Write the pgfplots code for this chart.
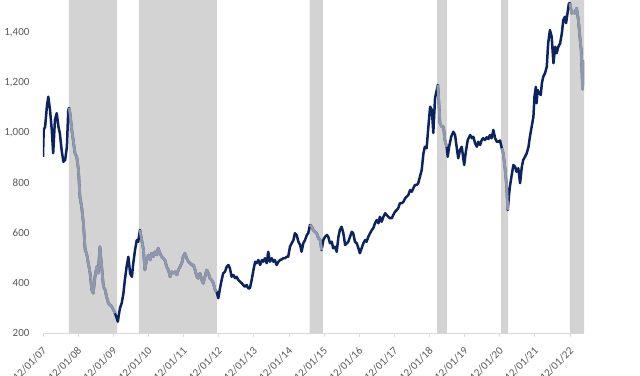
\documentclass[border=0pt]{standalone}
\usepackage{fontspec}
\setmainfont{Carlito}
\usepackage{pgfplots}
\pgfplotsset{compat=1.18}
\usepackage{pgfplotstable}
\definecolor{navy}{HTML}{0B235E}
\definecolor{lgrey}{HTML}{8E97AB}
\definecolor{shade}{HTML}{D3D3D3}
\definecolor{axgrey}{HTML}{D9D9D9}
\definecolor{txt}{HTML}{595959}

\pgfplotstableread{
u v
0.00 905
0.02 1012
0.06 1025
0.11 1105
0.15 1145
0.20 1092
0.25 1012
0.29 919
0.34 1052
0.39 1079
0.44 1025
0.48 999
0.53 932
0.58 885
0.63 892
0.68 945
0.72 1092
0.74 1100
0.77 1079
0.82 1012
0.86 972
0.91 919
0.96 905
1.01 852
1.05 745
1.10 705
1.15 639
1.20 532
1.24 519
1.29 479
1.34 439
1.39 372
1.43 359
1.48 425
1.53 465
1.57 439
1.62 545
1.67 465
1.72 385
1.77 372
1.81 345
1.86 319
1.96 305
2.05 279
2.13 245
2.15 265
2.19 299
2.24 319
2.29 359
2.33 412
2.38 465
2.43 505
2.48 439
2.53 425
2.57 479
2.62 532
2.67 572
2.71 565
2.76 612
2.81 572
2.86 532
2.90 452
2.95 492
3.00 512
3.05 492
3.09 519
3.14 505
3.19 525
3.24 512
3.28 539
3.33 519
3.38 505
3.42 499
3.47 492
3.52 465
3.57 452
3.62 425
3.66 445
3.71 439
3.76 445
3.81 432
3.85 452
3.90 465
3.95 479
3.99 505
4.04 519
4.09 499
4.14 485
4.19 479
4.23 472
4.28 472
4.33 452
4.38 425
4.42 419
4.47 439
4.52 412
4.56 399
4.61 425
4.66 452
4.71 439
4.75 419
4.80 412
4.85 399
4.90 372
4.94 365
4.99 339
5.04 380
5.09 415
5.13 439
5.18 445
5.23 465
5.28 472
5.32 459
5.37 425
5.42 432
5.47 419
5.51 425
5.56 412
5.61 405
5.66 399
5.70 392
5.75 385
5.80 392
5.84 379
5.89 379
5.94 412
5.99 452
6.04 485
6.08 479
6.13 492
6.18 472
6.23 492
6.27 485
6.32 499
6.37 479
6.41 525
6.46 485
6.51 499
6.56 485
6.60 492
6.65 472
6.70 485
6.75 492
6.80 495
6.84 499
6.89 499
6.94 505
6.98 505
7.03 545
7.08 559
7.13 572
7.17 599
7.22 592
7.27 565
7.32 552
7.36 525
7.41 559
7.46 572
7.51 592
7.55 599
7.60 632
7.65 625
7.69 612
7.74 605
7.79 599
7.84 579
7.89 572
7.93 532
7.98 572
8.03 585
8.08 592
8.12 585
8.17 559
8.22 565
8.26 539
8.31 545
8.36 525
8.41 585
8.45 612
8.50 625
8.55 599
8.60 552
8.65 559
8.69 565
8.74 585
8.79 605
8.83 599
8.88 565
8.93 559
8.98 539
9.02 519
9.07 539
9.12 559
9.17 572
9.21 565
9.26 585
9.31 599
9.36 612
9.40 619
9.45 639
9.50 652
9.55 639
9.59 665
9.64 645
9.69 665
9.74 679
9.78 672
9.83 665
9.88 659
9.93 659
9.97 672
10.02 685
10.07 692
10.11 699
10.16 719
10.21 719
10.26 725
10.31 739
10.35 745
10.40 752
10.45 772
10.50 765
10.54 779
10.59 792
10.64 792
10.68 799
10.73 825
10.78 852
10.83 919
10.87 945
10.92 939
10.97 1025
11.02 1105
11.07 1092
11.11 1000
11.16 1140
11.24 1192
11.27 1119
11.30 1039
11.35 1025
11.40 1025
11.44 972
11.49 945
11.52 905
11.56 945
11.62 985
11.68 1005
11.73 992
11.78 939
11.82 899
11.87 932
11.92 945
11.97 892
11.99 872
12.03 919
12.09 972
12.16 992
12.21 979
12.25 985
12.30 959
12.35 945
12.39 965
12.44 952
12.49 972
12.53 979
12.58 972
12.63 983
12.68 976
12.72 992
12.77 979
12.82 1012
12.87 979
12.92 965
12.96 965
13.01 970
13.06 939
13.10 919
13.15 860
13.20 785
13.23 692
13.27 759
13.29 785
13.34 830
13.39 872
13.44 865
13.48 845
13.53 859
13.58 799
13.63 865
13.67 892
13.72 905
13.77 919
13.82 945
13.86 985
13.91 1025
13.96 1065
13.99 1145
14.03 1185
14.05 1119
14.08 1172
14.12 1159
14.17 1152
14.20 1199
14.24 1225
14.29 1239
14.34 1265
14.38 1359
14.43 1412
14.48 1385
14.53 1279
14.58 1345
14.62 1319
14.67 1345
14.72 1359
14.77 1399
14.81 1452
14.86 1465
14.89 1439
14.93 1479
14.97 1519
15.00 1519
15.05 1479
15.10 1485
15.14 1479
15.19 1499
15.24 1452
15.29 1372
15.32 1332
15.36 1175
15.39 1290
}\data

\begin{document}
\begin{tikzpicture}
\useasboundingbox (0,0) rectangle (640pt,375pt);
\begin{axis}[
  at={(43pt,42pt)}, anchor=south west,
  scale only axis, width=541pt, height=333pt,
  xmin=0, xmax=15.40, ymin=200, ymax=1532,
  axis x line*=bottom, axis y line*=left,
  x axis line style={axgrey, line width=0.8pt, -},
  y axis line style={draw=none},
  ytick={200,400,...,1400},
  ytick style={draw=none},
  xtick={0,...,15},
  xticklabels={12/01/07,12/01/08,12/01/09,12/01/10,12/01/11,12/01/12,12/01/13,12/01/14,12/01/15,12/01/16,12/01/17,12/01/18,12/01/19,12/01/20,12/01/21,12/01/22},
  xtick style={axgrey, line width=0.8pt},
  major tick length=4pt, tick align=outside,
  tick label style={font=\fontsize{11}{13}\selectfont, text=txt},
  xticklabel style={xshift=4pt, yshift=-10pt, rotate=45, anchor=east},
  yticklabel style={xshift=-6pt},
  /pgf/number format/assume math mode=true,
  /pgf/number format/1000 sep={,},
]
\addplot[fill=shade, draw=none] coordinates {(0.74,200) (0.74,1532) (2.11,1532) (2.11,200)} \closedcycle;
\addplot[fill=shade, draw=none] coordinates {(2.73,200) (2.73,1532) (4.95,1532) (4.95,200)} \closedcycle;
\addplot[fill=shade, draw=none] coordinates {(7.59,200) (7.59,1532) (7.97,1532) (7.97,200)} \closedcycle;
\addplot[fill=shade, draw=none] coordinates {(11.22,200) (11.22,1532) (11.50,1532) (11.50,200)} \closedcycle;
\addplot[fill=shade, draw=none] coordinates {(13.04,200) (13.04,1532) (13.24,1532) (13.24,200)} \closedcycle;
\addplot[fill=shade, draw=none] coordinates {(15.00,200) (15.00,1532) (15.40,1532) (15.40,200)} \closedcycle;
\addplot[navy, line width=2.5pt, line join=round] table[x=u, y=v]{\data};
\addplot[lgrey, line width=2.8pt, line join=round, restrict x to domain=0.74:2.11] table[x=u, y=v]{\data};
\addplot[lgrey, line width=2.8pt, line join=round, restrict x to domain=2.73:4.95] table[x=u, y=v]{\data};
\addplot[lgrey, line width=2.8pt, line join=round, restrict x to domain=7.59:7.97] table[x=u, y=v]{\data};
\addplot[lgrey, line width=2.8pt, line join=round, restrict x to domain=11.22:11.50] table[x=u, y=v]{\data};
\addplot[lgrey, line width=2.8pt, line join=round, restrict x to domain=13.04:13.24] table[x=u, y=v]{\data};
\addplot[lgrey, line width=2.8pt, line join=round, restrict x to domain=15.00:15.40] table[x=u, y=v]{\data};
\end{axis}
\end{tikzpicture}
\end{document}
